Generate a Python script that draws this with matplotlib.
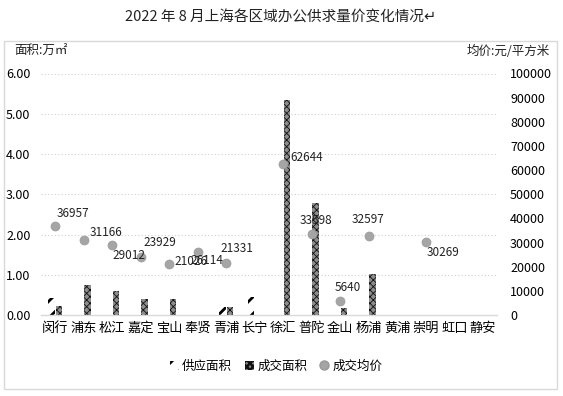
import matplotlib
matplotlib.use("Agg")
import matplotlib.pyplot as plt
from matplotlib.patches import Patch, Rectangle
from matplotlib.lines import Line2D
import numpy as np

plt.rcParams['font.family'] = ['Noto Sans CJK SC', 'DejaVu Sans']
plt.rcParams['hatch.linewidth'] = 1.8

districts = ['闵行', '浦东', '松江', '嘉定', '宝山', '奉贤', '青浦', '长宁',
             '徐汇', '普陀', '金山', '杨浦', '黄浦', '崇明', '虹口', '静安']
supply_area = [0.43, 0, 0, 0, 0, 0, 0.19, 0.45, 0, 0, 0, 0, 0, 0, 0, 0]
deal_area = [0.23, 0.75, 0.60, 0.40, 0.40, 0, 0.19, 0, 5.35, 2.79, 0.17, 1.02, 0, 0, 0, 0]
deal_price = [36957, 31166, 29012, 23929, 21026, 26114, 21331, None,
              62644, 33598, 5640, 32597, None, 30269, None, None]
left_ticks = [0, 1, 2, 3, 4, 5, 6]
right_ticks = list(range(0, 100001, 10000))

W, H = 563, 396
fig = plt.figure(figsize=(W / 100, H / 100), dpi=100)

# outer frame
fig.patches.append(Rectangle((4 / W, 1 - 389 / H), 553 / W, 348 / H,
                             transform=fig.transFigure, fill=False,
                             edgecolor='#d9d9d9', linewidth=1.0))

ax = fig.add_axes([41 / W, 1 - 315 / H, 456 / W, 241.5 / H])
ax2 = ax.twinx()

x = np.arange(len(districts))
bw = 0.24
CHECK_FACE = '#8c8c8c'
b1 = ax.bar(x - 0.13, supply_area, width=bw, facecolor='white', edgecolor='black',
            hatch='//', linewidth=0)
b2 = ax.bar(x + 0.13, deal_area, width=bw, facecolor=CHECK_FACE, edgecolor='#111111',
            hatch='xxxxx', linewidth=0)
for p in b2:
    if hasattr(p, 'set_hatch_linewidth'):
        p.set_hatch_linewidth(0.6)
for p in b1:
    if hasattr(p, 'set_hatch_linewidth'):
        p.set_hatch_linewidth(2.0)

ax.set_xlim(-0.5, len(districts) - 0.5)
ax.set_ylim(0, 6)
ax.set_yticks(left_ticks)
ax.set_yticklabels([f'{v:.2f}' for v in left_ticks])
for lab in ax.get_yticklabels():
    lab.set_ha('left')
ax.tick_params(axis='y', length=0, pad=25.2, labelsize=9)
ax.set_xticks(x)
ax.set_xticklabels(districts, fontsize=9.5)
ax.tick_params(axis='x', length=0, pad=5)
for y in left_ticks[1:]:
    ax.axhline(y, color='#d0d0d0', linewidth=0.8, linestyle=(0, (1, 2)), zorder=0)
for s in ['top', 'left', 'right']:
    ax.spines[s].set_visible(False)
ax.spines['bottom'].set_color('#d9d9d9')
ax.spines['bottom'].set_linewidth(1.0)

ax2.set_ylim(0, 100000)
ax2.set_yticks(right_ticks)
ax2.set_yticklabels([str(v) for v in right_ticks])
ax2.tick_params(axis='y', length=0, pad=9.4, labelsize=9)
for s in ['top', 'left', 'right', 'bottom']:
    ax2.spines[s].set_visible(False)

px = [xi for xi, v in zip(x, deal_price) if v is not None]
py = [v for v in deal_price if v is not None]
ax2.scatter(px, py, s=42, color='#a5a5a5', edgecolor='#999999', linewidth=0.5, zorder=5)

# label offsets in pixels (dx, dy) relative to point, left-anchored
offsets = {
    '闵行': (1, 12), '浦东': (6, 7), '松江': (0, -11), '嘉定': (3, 15),
    '宝山': (5, 3), '奉贤': (-7, -9), '青浦': (-6, 15), '徐汇': (7, 6),
    '普陀': (-12, 13), '金山': (-6, 14), '杨浦': (-17, 17), '崇明': (1, -11),
}
for xi, name, v in zip(x, districts, deal_price):
    if v is None:
        continue
    dx, dy = offsets[name]
    ax2.annotate(str(v), (xi, v), xytext=(dx, dy), textcoords='offset pixels',
                 ha='left', va='center', fontsize=8.5, color='#222222', zorder=6)

fig.text(281 / W, 1 - 18 / H, '2022 年 8 月上海各区域办公供求量价变化情况↵',
         ha='center', va='center', fontsize=10.5, color='#222222')
fig.text(14 / W, 1 - 51 / H, '面积:万㎡', ha='left', va='center', fontsize=9,
         color='#222222')
fig.text(550 / W, 1 - 51 / H, '均价:元/平方米', ha='right', va='center', fontsize=9,
         color='#222222')

handles = [
    Patch(facecolor='white', edgecolor='black', hatch='//', linewidth=0, label='供应面积'),
    Patch(facecolor=CHECK_FACE, edgecolor='#111111', hatch='xxxxx', linewidth=0, label='成交面积'),
    Line2D([], [], marker='o', linestyle='none', markersize=6.5, color='#a5a5a5',
           markeredgecolor='#999999', label='成交均价'),
]
fig.legend(handles=handles, loc='center', bbox_to_anchor=(276 / W, 1 - 366 / H),
           ncol=3, frameon=False, fontsize=9, handlelength=0.7, handleheight=0.7,
           handletextpad=0.3, columnspacing=1.0)

fig.savefig('out.png', dpi=100)
